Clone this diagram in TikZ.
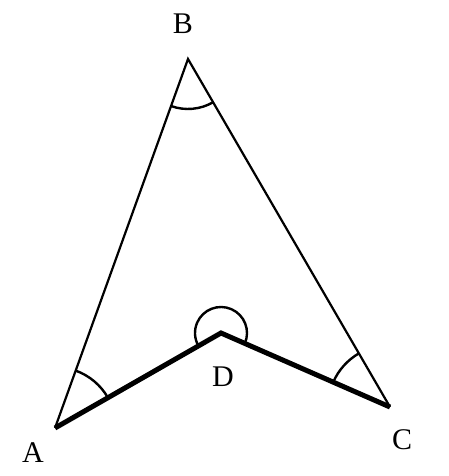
\documentclass[tikz,border=0pt]{standalone}
\usepackage{fontspec}
\setmainfont{Liberation Serif}
\usetikzlibrary{angles}
\begin{document}
\begin{tikzpicture}[x=1pt,y=1pt,
  thinline/.style={line width=2.2pt,line join=miter},
  thickline/.style={line width=5pt,line join=miter},
  anglemark/.style={draw,line width=2.4pt},
  lbl/.style={font=\fontsize{30}{34}\selectfont,inner sep=0pt}]
\useasboundingbox (0,0) rectangle (448,476);
\coordinate (A) at (55,48);
\coordinate (B) at (188,417);
\coordinate (C) at (390,69);
\coordinate (D) at (221,143);
\draw[thinline] (A) -- (B) -- (C);
\draw[thickline] (A) -- (D) -- (C);
\pic[anglemark, angle radius=61pt] {angle=D--A--B};
\pic[anglemark, angle radius=50pt] {angle=A--B--C};
\pic[anglemark, angle radius=62pt] {angle=B--C--D};
\pic[anglemark, angle radius=26pt] {angle=C--D--A};
\node[lbl] (lB) at (183,452) {B};
\node[lbl] (lA) at (33,23) {A};
\node[lbl] (lC) at (402,36) {C};
\node[lbl] (lD) at (223,99) {D};
\end{tikzpicture}
\end{document}
